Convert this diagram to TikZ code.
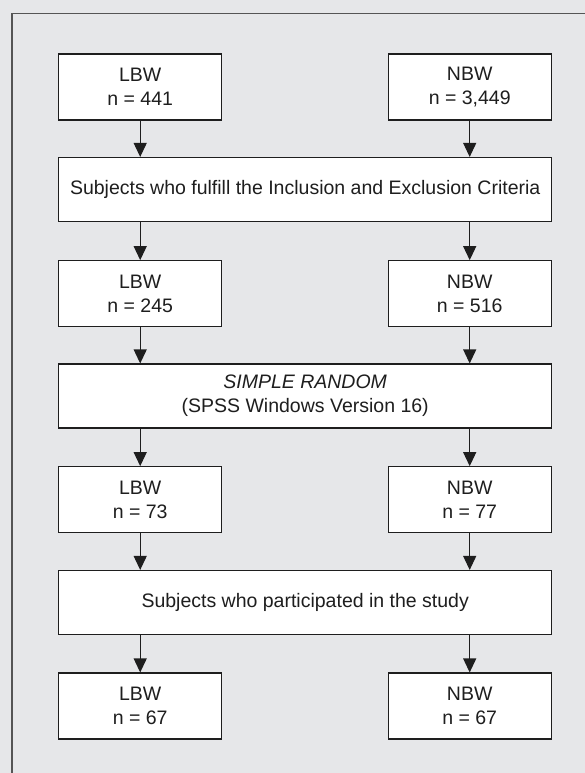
\documentclass[tikz,border=0pt]{standalone}
\usepackage{fontspec}
\setmainfont{Liberation Sans}
\usetikzlibrary{arrows.meta}
\definecolor{bgcol}{HTML}{E6E7E9}
\definecolor{framecol}{HTML}{555555}
\definecolor{linecol}{HTML}{1E1E1E}
\begin{document}
\begin{tikzpicture}[x=1pt,y=-1pt,
  box/.style={draw=linecol, line width=1.1pt, fill=white, align=center, inner sep=0pt,
    text=linecol, font=\fontsize{19.5}{24}\selectfont},
  small/.style={box, minimum width=163pt, minimum height=66pt},
  wide/.style={box, minimum width=493pt, minimum height=64pt},
  arr/.style={draw=linecol, line width=1.1pt, -{Triangle[width=13pt,length=14pt]}}]
\fill[bgcol] (0,0) rectangle (585,773);
\useasboundingbox (0,0) rectangle (585,773);
\draw[framecol, line width=1.4pt] (12,773) -- (12,13.5) -- (585,13.5);

\node[small] (l1) at (140.2,87) {LBW\\n = 441};
\node[small] (r1) at (469.7,87) {NBW\\n = 3,449};
\node[wide] (w1) at (305.2,189.5) {Subjects who fulfill the Inclusion and Exclusion Criteria};
\node[small] (l2) at (140.2,293.7) {LBW\\n = 245};
\node[small] (r2) at (469.7,293.7) {NBW\\n = 516};
\node[wide] (w2) at (305.2,396) {\textit{SIMPLE RANDOM}\\(SPSS Windows Version 16)};
\node[small] (l3) at (140.2,499.7) {LBW\\n = 73};
\node[small] (r3) at (469.7,499.7) {NBW\\n = 77};
\node[wide] (w3) at (305.2,602.5) {Subjects who participated in the study};
\node[small] (l4) at (140.2,706) {LBW\\n = 67};
\node[small] (r4) at (469.7,706) {NBW\\n = 67};

\draw[arr] (l1.south) -- (l1.south |- w1.north);
\draw[arr] (r1.south) -- (r1.south |- w1.north);
\draw[arr] (l1.south |- w1.south) -- (l2.north);
\draw[arr] (r1.south |- w1.south) -- (r2.north);
\draw[arr] (l2.south) -- (l2.south |- w2.north);
\draw[arr] (r2.south) -- (r2.south |- w2.north);
\draw[arr] (l2.south |- w2.south) -- (l3.north);
\draw[arr] (r2.south |- w2.south) -- (r3.north);
\draw[arr] (l3.south) -- (l3.south |- w3.north);
\draw[arr] (r3.south) -- (r3.south |- w3.north);
\draw[arr] (l3.south |- w3.south) -- (l4.north);
\draw[arr] (r3.south |- w3.south) -- (r4.north);
\end{tikzpicture}
\end{document}
